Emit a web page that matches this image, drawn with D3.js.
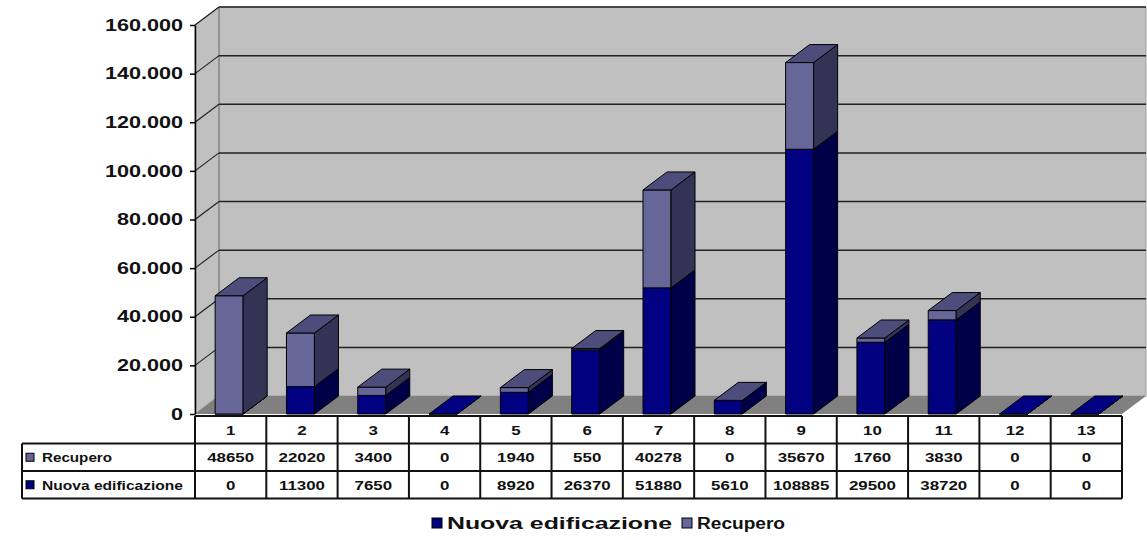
<!DOCTYPE html>
<html>
<head>
<meta charset="utf-8">
<script src="https://cdn.jsdelivr.net/npm/d3@7"></script>
<style>
  html, body { margin: 0; padding: 0; background: #fff; }
  svg { display: block; font-family: "Liberation Sans", Arial, sans-serif; font-weight: bold; }
</style>
</head>
<body>
<svg id="chart" width="1147" height="540"></svg>
<script>
// ---- data ----
const categories = ["1","2","3","4","5","6","7","8","9","10","11","12","13"];
const nuovaEdificazione = [0, 11300, 7650, 0, 8920, 26370, 51880, 5610, 108885, 29500, 38720, 0, 0];
const recupero = [48650, 22020, 3400, 0, 1940, 550, 40278, 0, 35670, 1760, 3830, 0, 0];
const seriesNames = ["Nuova edificazione", "Recupero"];
const yTicks = [0, 20000, 40000, 60000, 80000, 100000, 120000, 140000, 160000];

// ---- styles ----
const colors = {
  nuova: { front: "#000080", side: "#000048", top: "#000080" },
  recupero: { front: "#666699", side: "#333355", top: "#4d4d7c" },
  wall: "#c0c0c0", floor: "#808080", side: "#c0c0c0"
};
const DX = 24, DY = -18;
const fmt = d3.formatLocale({ decimal: ",", thousands: ".", grouping: [3], currency: ["", ""] }).format(",");

const svg = d3.select("#chart");
const x = d3.scaleBand().domain(categories).range([195, 1122]);
const y = d3.scaleLinear().domain([0, 160000]).range([414, 25]);
const x0 = x.range()[0], x1 = x.range()[1];
const yb = y(0), yt = y(160000);

function pts(a) { return a.map(p => p.join(",")).join(" "); }

// ---- walls & floor ----
svg.append("polygon").attr("points", pts([[x0+DX, yt+DY], [x1+DX, yt+DY], [x1+DX, yb+DY], [x0+DX, yb+DY]]))
  .attr("fill", colors.wall).attr("stroke", "#a0a0a0").attr("stroke-width", 1);
svg.append("polygon").attr("points", pts([[x0, yb], [x0, yt], [x0+DX, yt+DY], [x0+DX, yb+DY]]))
  .attr("fill", colors.side).attr("stroke", "#888").attr("stroke-width", 1);
svg.append("polygon").attr("points", pts([[x0, yb], [x0+DX, yb+DY], [x1+DX, yb+DY], [x1, yb]]))
  .attr("fill", colors.floor);
svg.append("line").attr("x1", x0+DX).attr("x2", x0+DX).attr("y1", yt+DY).attr("y2", yb+DY)
  .attr("stroke", "#888").attr("stroke-width", 1);

// gridlines
const grid = svg.append("g");
yTicks.slice(1).forEach(t => {
  grid.append("line").attr("x1", x0+DX).attr("x2", x1+DX).attr("y1", y(t)+DY).attr("y2", y(t)+DY)
    .attr("stroke", "#222").attr("stroke-width", 1.5);
  grid.append("line").attr("x1", x0).attr("x2", x0+DX).attr("y1", y(t)).attr("y2", y(t)+DY)
    .attr("stroke", "#222").attr("stroke-width", 1.2);
});

// ---- bars ----
const barW = 28, barOff = -15.5;
const bars = svg.append("g");
function box(g, bx, yTop, yBot, c, drawTop) {
  g.append("polygon").attr("points", pts([[bx, yBot], [bx, yTop], [bx+barW, yTop], [bx+barW, yBot]]))
    .attr("fill", c.front).attr("stroke", "#000").attr("stroke-width", 1);
  g.append("polygon").attr("points", pts([[bx+barW, yBot], [bx+barW, yTop], [bx+barW+DX, yTop+DY], [bx+barW+DX, yBot+DY]]))
    .attr("fill", c.side).attr("stroke", "#000").attr("stroke-width", 1);
  if (drawTop) {
    g.append("polygon").attr("points", pts([[bx, yTop], [bx+DX, yTop+DY], [bx+barW+DX, yTop+DY], [bx+barW, yTop]]))
      .attr("fill", c.top).attr("stroke", "#000").attr("stroke-width", 1);
  }
}
categories.forEach((cat, i) => {
  const g = bars.append("g");
  const bx = x(cat) + x.bandwidth() / 2 + barOff;
  const n = nuovaEdificazione[i], r = recupero[i];
  const total = n + r;
  box(g, bx, y(n), y(0), colors.nuova, total === 0);
  if (total > 0) box(g, bx, y(total), y(n), colors.recupero, true);
});

// ---- y axis ----
const SX = 1.35;
const axis = svg.append("g").attr("transform", `translate(${x0},0)`)
  .call(d3.axisLeft(y).tickValues(yTicks).tickSize(5).tickSizeOuter(0).tickFormat(fmt));
axis.select(".domain").attr("stroke", "#000").attr("stroke-width", 1.5);
axis.selectAll(".tick line").attr("stroke", "#000").attr("stroke-width", 1.5);
axis.selectAll(".tick text")
  .attr("font-size", 16).attr("font-weight", "bold").attr("font-family", "Liberation Sans, Arial, sans-serif")
  .attr("fill", "#111").attr("x", -12 / SX).attr("transform", `scale(${SX},1)`);

// ---- data table ----
const tTop = 416, rowH = 27.5, labelX0 = 22;
const rows = [
  { name: seriesNames[1], values: recupero, color: colors.recupero.front, w: 70 },
  { name: seriesNames[0], values: nuovaEdificazione, color: colors.nuova.front, w: 141 }
];
const tbl = svg.append("g");
const tSX = 1.3;
function stretchedText(g, tx, ty, str, size, sx, anchor) {
  g.append("text").attr("transform", `translate(${tx},${ty}) scale(${sx},1)`)
    .attr("text-anchor", anchor).attr("font-size", size).attr("fill", "#111").text(str);
}
tbl.append("rect").attr("x", x0).attr("y", tTop).attr("width", x1 - x0).attr("height", rowH * 3)
  .attr("fill", "#fff");
categories.forEach(cat => {
  stretchedText(tbl, x(cat) + x.bandwidth() / 2, tTop + rowH / 2 + 5, cat, 13, tSX, "middle");
});
rows.forEach((row, ri) => {
  const ry = tTop + rowH * (ri + 1);
  tbl.append("rect").attr("x", labelX0 + 4).attr("y", ry + rowH / 2 - 4).attr("width", 8).attr("height", 8)
    .attr("fill", row.color).attr("stroke", "#000").attr("stroke-width", 1);
  tbl.append("text").attr("x", labelX0 + 20).attr("y", ry + rowH / 2 + 5).attr("font-size", 13)
    .attr("fill", "#111").attr("textLength", row.w).attr("lengthAdjust", "spacingAndGlyphs").text(row.name);
  row.values.forEach((v, ci) => {
    stretchedText(tbl, x(categories[ci]) + x.bandwidth() / 2, ry + rowH / 2 + 5, String(v), 13, tSX, "middle");
  });
});
const tBot = tTop + rowH * 3;
const lineStyle = sel => sel.attr("stroke", "#111").attr("stroke-width", 2);
[tTop, tTop + rowH, tTop + 2 * rowH, tBot].forEach((ly, k) => {
  lineStyle(tbl.append("line").attr("x1", k === 0 ? x0 : labelX0).attr("x2", x1).attr("y1", ly).attr("y2", ly));
});
categories.forEach(cat => {
  lineStyle(tbl.append("line").attr("x1", x(cat) + x.bandwidth()).attr("x2", x(cat) + x.bandwidth())
    .attr("y1", tTop).attr("y2", tBot));
});
lineStyle(tbl.append("line").attr("x1", x0).attr("x2", x0).attr("y1", tTop).attr("y2", tBot));
lineStyle(tbl.append("line").attr("x1", labelX0).attr("x2", labelX0).attr("y1", tTop + rowH).attr("y2", tBot));

// ---- legend ----
const leg = svg.append("g");
const legItems = [
  { name: seriesNames[0], color: colors.nuova.front, x: 432, w: 225 },
  { name: seriesNames[1], color: colors.recupero.front, x: 682, w: 88 }
];
legItems.forEach(it => {
  leg.append("rect").attr("x", it.x).attr("y", 518).attr("width", 10).attr("height", 10)
    .attr("fill", it.color).attr("stroke", "#000").attr("stroke-width", 1);
  leg.append("text").attr("x", it.x + 15).attr("y", 529).attr("font-size", 16).attr("fill", "#111")
    .attr("textLength", it.w).attr("lengthAdjust", "spacingAndGlyphs").text(it.name);
});
</script>
</body>
</html>
